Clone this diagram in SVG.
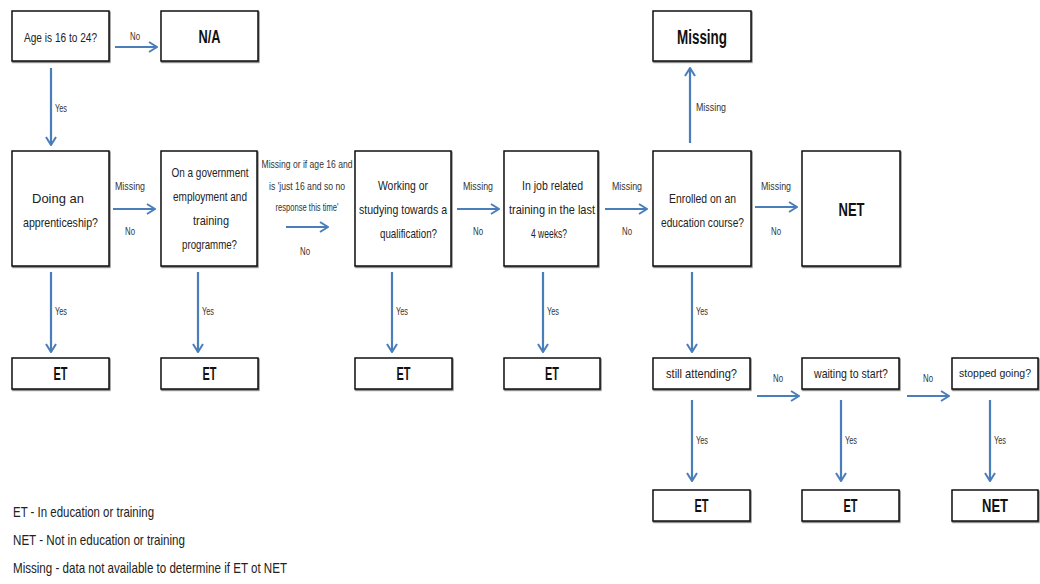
<svg xmlns="http://www.w3.org/2000/svg" width="1040" height="584" viewBox="0 0 1040 584">
  <style>
    .box { fill: #fff; stroke: #111; stroke-width: 1.5; filter: url(#shadow); }
    .q { font-family: "Liberation Sans", Arial, sans-serif; font-size: 13.5px; fill: #222; text-anchor: middle; dominant-baseline: central; }
    .big { font-family: "Liberation Sans", Arial, sans-serif; font-size: 18px; font-weight: bold; fill: #111; text-anchor: middle; dominant-baseline: central; }
    .lbl { font-family: "Liberation Sans", Arial, sans-serif; font-size: 10.5px; fill: #333; dominant-baseline: central; }
    .lblc { text-anchor: middle; }
    .legend { font-family: "Liberation Sans", Arial, sans-serif; font-size: 14.5px; fill: #222; }
    .arrow { stroke: #4a7ebb; stroke-width: 2.2; fill: none; marker-end: url(#head); }
  </style>
  <defs>
    <marker id="head" viewBox="0 0 10 12" refX="9" refY="6" markerWidth="10" markerHeight="12" markerUnits="userSpaceOnUse" orient="auto">
      <path d="M1,1 L9,6 L1,11" fill="none" stroke="#4a7ebb" stroke-width="2"/>
    </marker>
    <filter id="shadow" x="-5%" y="-5%" width="115%" height="130%">
      <feDropShadow dx="0.8" dy="1.2" stdDeviation="0.4" flood-color="#000" flood-opacity="0.55"/>
    </filter>
  </defs>

  <rect width="1040" height="584" fill="#fff"/>

  <!-- connectors -->
  <g id="connectors">
    <line class="arrow" x1="115" y1="47" x2="157" y2="47"/>
    <text class="lbl lblc" x="135" y="36" textLength="10" lengthAdjust="spacingAndGlyphs">No</text>
    <line class="arrow" x1="51" y1="68" x2="51" y2="145"/>
    <text class="lbl" x="55" y="108" textLength="12" lengthAdjust="spacingAndGlyphs">Yes</text>

    <line class="arrow" x1="113" y1="209" x2="155" y2="209"/>
    <text class="lbl lblc" x="130" y="186" textLength="30" lengthAdjust="spacingAndGlyphs">Missing</text>
    <text class="lbl lblc" x="130" y="231" textLength="10" lengthAdjust="spacingAndGlyphs">No</text>

    <line class="arrow" x1="286" y1="227" x2="328" y2="227"/>
    <text class="lbl lblc" x="305" y="251" textLength="10" lengthAdjust="spacingAndGlyphs">No</text>

    <line class="arrow" x1="457" y1="209" x2="499" y2="209"/>
    <text class="lbl lblc" x="478" y="186" textLength="30" lengthAdjust="spacingAndGlyphs">Missing</text>
    <text class="lbl lblc" x="478" y="231" textLength="10" lengthAdjust="spacingAndGlyphs">No</text>

    <line class="arrow" x1="605" y1="209" x2="647" y2="209"/>
    <text class="lbl lblc" x="627" y="186" textLength="30" lengthAdjust="spacingAndGlyphs">Missing</text>
    <text class="lbl lblc" x="627" y="231" textLength="10" lengthAdjust="spacingAndGlyphs">No</text>

    <line class="arrow" x1="755" y1="207" x2="797" y2="207"/>
    <text class="lbl lblc" x="776" y="186" textLength="30" lengthAdjust="spacingAndGlyphs">Missing</text>
    <text class="lbl lblc" x="776" y="231" textLength="10" lengthAdjust="spacingAndGlyphs">No</text>

    <line class="arrow" x1="690" y1="143" x2="690" y2="68"/>
    <text class="lbl" x="696" y="107" textLength="30" lengthAdjust="spacingAndGlyphs">Missing</text>

    <line class="arrow" x1="51" y1="272" x2="51" y2="352"/>
    <text class="lbl" x="55" y="311" textLength="12" lengthAdjust="spacingAndGlyphs">Yes</text>
    <line class="arrow" x1="198" y1="272" x2="198" y2="352"/>
    <text class="lbl" x="202" y="311" textLength="12" lengthAdjust="spacingAndGlyphs">Yes</text>
    <line class="arrow" x1="392" y1="272" x2="392" y2="352"/>
    <text class="lbl" x="396" y="311" textLength="12" lengthAdjust="spacingAndGlyphs">Yes</text>
    <line class="arrow" x1="543" y1="272" x2="543" y2="352"/>
    <text class="lbl" x="547" y="311" textLength="12" lengthAdjust="spacingAndGlyphs">Yes</text>
    <line class="arrow" x1="692" y1="272" x2="692" y2="352"/>
    <text class="lbl" x="696" y="311" textLength="12" lengthAdjust="spacingAndGlyphs">Yes</text>

    <line class="arrow" x1="757" y1="396" x2="799" y2="396"/>
    <text class="lbl lblc" x="778" y="378" textLength="10" lengthAdjust="spacingAndGlyphs">No</text>
    <line class="arrow" x1="907" y1="396" x2="949" y2="396"/>
    <text class="lbl lblc" x="928" y="378" textLength="10" lengthAdjust="spacingAndGlyphs">No</text>

    <line class="arrow" x1="692" y1="400" x2="692" y2="481"/>
    <text class="lbl" x="696" y="440" textLength="12" lengthAdjust="spacingAndGlyphs">Yes</text>
    <line class="arrow" x1="841" y1="400" x2="841" y2="481"/>
    <text class="lbl" x="845" y="440" textLength="12" lengthAdjust="spacingAndGlyphs">Yes</text>
    <line class="arrow" x1="990" y1="400" x2="990" y2="481"/>
    <text class="lbl" x="994" y="440" textLength="12" lengthAdjust="spacingAndGlyphs">Yes</text>
  </g>

  <!-- edge label with several lines -->
  <g id="label-missing-age16">
    <text class="lbl lblc" x="307" y="164" textLength="91" lengthAdjust="spacingAndGlyphs">Missing or if age 16 and</text>
    <text class="lbl lblc" x="307" y="186" textLength="76" lengthAdjust="spacingAndGlyphs">is 'just 16 and so no</text>
    <text class="lbl lblc" x="307" y="207" textLength="63" lengthAdjust="spacingAndGlyphs">response this time'</text>
  </g>

  <!-- top row -->
  <g id="age">
    <rect class="box" x="12" y="11" width="97" height="50"/>
    <text class="q" x="60.5" y="37" textLength="73" lengthAdjust="spacingAndGlyphs">Age is 16 to 24?</text>
  </g>
  <g id="na">
    <rect class="box" x="161" y="11" width="97" height="50"/>
    <text class="big" x="209.5" y="37" textLength="22" lengthAdjust="spacingAndGlyphs">N/A</text>
  </g>
  <g id="missing-out">
    <rect class="box" x="653" y="11" width="98" height="50"/>
    <text class="big" x="702" y="37" style="font-size:20px" textLength="50" lengthAdjust="spacingAndGlyphs">Missing</text>
  </g>

  <!-- question row -->
  <g id="apprenticeship">
    <rect class="box" x="12" y="151" width="97" height="115"/>
    <text class="q" x="58" y="198" textLength="52" lengthAdjust="spacingAndGlyphs">Doing an</text>
    <text class="q" x="60.5" y="222" textLength="75" lengthAdjust="spacingAndGlyphs">apprenticeship?</text>
  </g>
  <g id="government">
    <rect class="box" x="161" y="151" width="96" height="115"/>
    <text class="q" x="210" y="172" textLength="77" lengthAdjust="spacingAndGlyphs">On a government</text>
    <text class="q" x="210" y="196" textLength="74" lengthAdjust="spacingAndGlyphs">employment and</text>
    <text class="q" x="211" y="220" textLength="36" lengthAdjust="spacingAndGlyphs">training</text>
    <text class="q" x="209.5" y="244" textLength="55" lengthAdjust="spacingAndGlyphs">programme?</text>
  </g>
  <g id="working">
    <rect class="box" x="355" y="151" width="96" height="115"/>
    <text class="q" x="403" y="185" textLength="50" lengthAdjust="spacingAndGlyphs">Working or</text>
    <text class="q" x="403" y="209" textLength="88" lengthAdjust="spacingAndGlyphs">studying towards a</text>
    <text class="q" x="408.5" y="233" textLength="57" lengthAdjust="spacingAndGlyphs">qualification?</text>
  </g>
  <g id="job-training">
    <rect class="box" x="504" y="151" width="94" height="115"/>
    <text class="q" x="552.5" y="185" textLength="61" lengthAdjust="spacingAndGlyphs">In job related</text>
    <text class="q" x="552" y="209" textLength="86" lengthAdjust="spacingAndGlyphs">training in the last</text>
    <text class="q" x="549" y="233" textLength="36" lengthAdjust="spacingAndGlyphs">4 weeks?</text>
  </g>
  <g id="enrolled">
    <rect class="box" x="653" y="151" width="98" height="115"/>
    <text class="q" x="702.5" y="198" textLength="67" lengthAdjust="spacingAndGlyphs">Enrolled on an</text>
    <text class="q" x="702.5" y="222" textLength="83" lengthAdjust="spacingAndGlyphs">education course?</text>
  </g>
  <g id="net-main">
    <rect class="box" x="802" y="151" width="98" height="115"/>
    <text class="big" x="851.5" y="210" textLength="26" lengthAdjust="spacingAndGlyphs">NET</text>
  </g>

  <!-- outcome row -->
  <g id="et1">
    <rect class="box" x="12" y="358" width="97" height="31"/>
    <text class="big" x="60.5" y="374" textLength="14" lengthAdjust="spacingAndGlyphs">ET</text>
  </g>
  <g id="et2">
    <rect class="box" x="161" y="358" width="97" height="31"/>
    <text class="big" x="209.5" y="374" textLength="14" lengthAdjust="spacingAndGlyphs">ET</text>
  </g>
  <g id="et3">
    <rect class="box" x="355" y="358" width="97" height="31"/>
    <text class="big" x="403.5" y="374" textLength="14" lengthAdjust="spacingAndGlyphs">ET</text>
  </g>
  <g id="et4">
    <rect class="box" x="504" y="358" width="96" height="31"/>
    <text class="big" x="552" y="374" textLength="14" lengthAdjust="spacingAndGlyphs">ET</text>
  </g>
  <g id="still-attending">
    <rect class="box" x="653" y="358" width="97" height="31"/>
    <text class="q" x="701.5" y="373" textLength="71" lengthAdjust="spacingAndGlyphs">still attending?</text>
  </g>
  <g id="waiting">
    <rect class="box" x="802" y="358" width="97" height="31"/>
    <text class="q" x="851" y="373" textLength="74" lengthAdjust="spacingAndGlyphs">waiting to start?</text>
  </g>
  <g id="stopped">
    <rect class="box" x="952" y="358" width="86" height="31"/>
    <text class="q" x="995" y="373" style="font-size:11.5px" textLength="72" lengthAdjust="spacingAndGlyphs">stopped going?</text>
  </g>

  <!-- final row -->
  <g id="et5">
    <rect class="box" x="653" y="490" width="97" height="31"/>
    <text class="big" x="701.5" y="506" textLength="14" lengthAdjust="spacingAndGlyphs">ET</text>
  </g>
  <g id="et6">
    <rect class="box" x="802" y="490" width="97" height="31"/>
    <text class="big" x="850.5" y="506" textLength="14" lengthAdjust="spacingAndGlyphs">ET</text>
  </g>
  <g id="net-final">
    <rect class="box" x="952" y="490" width="86" height="31"/>
    <text class="big" x="995" y="506" textLength="26" lengthAdjust="spacingAndGlyphs">NET</text>
  </g>

  <!-- key -->
  <g id="legend">
    <text class="legend" x="13" y="517" textLength="141" lengthAdjust="spacingAndGlyphs">ET - In education or training</text>
    <text class="legend" x="13" y="545" textLength="172" lengthAdjust="spacingAndGlyphs">NET - Not in education or training</text>
    <text class="legend" x="13" y="573" textLength="274" lengthAdjust="spacingAndGlyphs">Missing - data not available to determine if ET ot NET</text>
  </g>
</svg>
